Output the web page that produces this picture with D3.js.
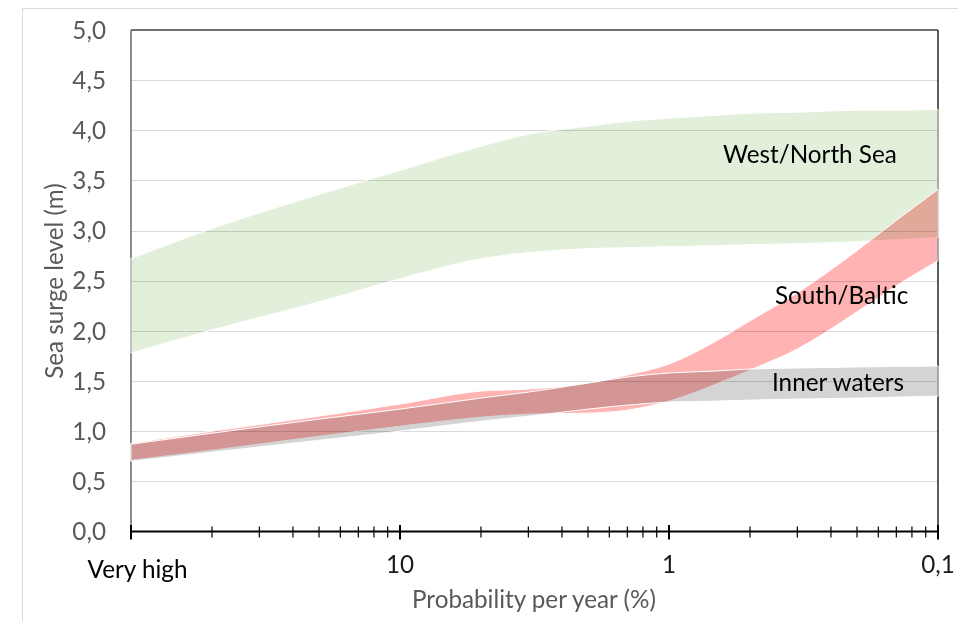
<!DOCTYPE html>
<html>
<head>
<meta charset="utf-8">
<script src="https://cdn.jsdelivr.net/npm/d3@7"></script>
<style>
  html, body { margin: 0; padding: 0; background: #fff; }
  svg { display: block; font-family: Lato, "Open Sans", sans-serif; }
  .band { mix-blend-mode: multiply; }
</style>
</head>
<body>
<svg id="chart" width="958" height="621"></svg>
<script>
// ---- data (probability per year in %, sea surge level in m) ----
const probability      = [100, 50, 20, 10, 5, 3.33, 2, 1.43, 1, 0.667, 0.5, 0.333, 0.2, 0.143, 0.1];
const westNorthLow     = [1.78, 2.01, 2.29, 2.52, 2.72, 2.78, 2.82, 2.83, 2.84, 2.85, 2.86, 2.87, 2.89, 2.91, 2.93];
const westNorthHigh    = [2.72, 3.02, 3.36, 3.60, 3.84, 3.96, 4.04, 4.09, 4.12, 4.15, 4.17, 4.18, 4.20, 4.20, 4.21];
const southBalticLow   = [0.71, 0.81, 0.95, 1.05, 1.14, 1.17, 1.18, 1.21, 1.30, 1.47, 1.61, 1.82, 2.19, 2.45, 2.70];
const southBalticHigh  = [0.88, 1.00, 1.15, 1.27, 1.40, 1.42, 1.48, 1.56, 1.67, 1.90, 2.10, 2.38, 2.80, 3.10, 3.41];
const innerLow         = [0.70, 0.79, 0.91, 1.00, 1.10, 1.15, 1.22, 1.26, 1.29, 1.30, 1.31, 1.32, 1.33, 1.34, 1.35];
const innerHigh        = [0.87, 0.98, 1.12, 1.22, 1.33, 1.39, 1.48, 1.54, 1.58, 1.60, 1.62, 1.63, 1.64, 1.645, 1.65];

const seriesNames  = ["West/North Sea", "South/Baltic", "Inner waters"];
const yTickValues  = [0, 0.5, 1, 1.5, 2, 2.5, 3, 3.5, 4, 4.5, 5];
const yTickLabels  = ["0,0", "0,5", "1,0", "1,5", "2,0", "2,5", "3,0", "3,5", "4,0", "4,5", "5,0"];
const xMajorValues = [100, 10, 1, 0.1];
const xMajorLabels = ["Very high", "10", "1", "0,1"];
const returnSteps  = [2, 3, 4, 5, 6, 7, 8, 9];
const yTitle = "Sea surge level (m)";
const xTitle = "Probability per year (%)";

// ---- layout ----
const svg = d3.select("#chart");
const L = 131, R = 938, T = 30, B = 531.5;
const x = d3.scaleLog().domain([100, 0.1]).range([L, R]);
const y = d3.scaleLinear().domain([0, 5]).range([B, T]);

// font size fitted to reference ("Inner waters" ≈ 132px wide)
const probe = svg.append("text").attr("font-size", 100).text("Inner waters");
const fs = 100 * 132 / probe.node().getComputedTextLength();
probe.remove();

svg.append("rect").attr("width", 958).attr("height", 621).attr("fill", "#fff");
// outer chart frame
svg.append("rect").attr("x", 22.5).attr("y", 8.5).attr("width", 1200).attr("height", 1200)
  .attr("fill", "none").attr("stroke", "#d9d9d9").attr("stroke-width", 1);

// gridlines
svg.append("g").selectAll("line").data(yTickValues.filter(v => v > 0 && v < 5)).join("line")
  .attr("x1", L).attr("x2", R).attr("y1", d => Math.round(y(d)) + 0.5).attr("y2", d => Math.round(y(d)) + 0.5)
  .attr("stroke", "#d9d9d9").attr("stroke-width", 1.2);

// frame top/right
svg.append("line").attr("x1", L).attr("x2", R).attr("y1", y(5)).attr("y2", y(5))
  .attr("stroke", "#404040").attr("stroke-width", 1.5);
svg.append("line").attr("x1", R).attr("x2", R).attr("y1", y(5)).attr("y2", y(0))
  .attr("stroke", "#262626").attr("stroke-width", 1.5);
// left axis
svg.append("line").attr("x1", L).attr("x2", L).attr("y1", y(5)).attr("y2", y(0))
  .attr("stroke", "#808080").attr("stroke-width", 1.8);

// bands
const bands = [
  { name: seriesNames[0], low: westNorthLow, high: westNorthHigh, color: "#e2efda" },
  { name: seriesNames[1], low: southBalticLow, high: southBalticHigh, color: "#ffb3b3" },
  { name: seriesNames[2], low: innerLow, high: innerHigh, color: "#d4d4d4" }
];
const area = d3.area()
  .x((d, i) => x(probability[i]))
  .y0(d => y(d[0])).y1(d => y(d[1]))
  .curve(d3.curveMonotoneX);
bands.forEach(b => {
  const pts = b.low.map((v, i) => [v, b.high[i]]);
  svg.append("path").attr("class", "band").attr("d", area(pts)).attr("fill", b.color);
  svg.append("path").attr("d", area(pts)).attr("fill", "none")
    .attr("stroke", "#fff").attr("stroke-width", 1);
});

// x axis line & ticks
svg.append("line").attr("x1", L).attr("x2", R).attr("y1", B).attr("y2", B)
  .attr("stroke", "#000").attr("stroke-width", 2);
const minorTicks = [];
[100, 10, 1].forEach(p => returnSteps.forEach(s => minorTicks.push(p / s)));
svg.append("g").selectAll("line").data(minorTicks).join("line")
  .attr("x1", d => x(d)).attr("x2", d => x(d)).attr("y1", B - 5).attr("y2", B + 6)
  .attr("stroke", "#000").attr("stroke-width", 1.2);
svg.append("g").selectAll("line").data(xMajorValues).join("line")
  .attr("x1", d => x(d)).attr("x2", d => x(d)).attr("y1", B - 6.5).attr("y2", B + 8)
  .attr("stroke", "#000").attr("stroke-width", 2);

// y tick labels
svg.append("g").selectAll("text").data(yTickValues).join("text")
  .attr("x", 106).attr("y", d => y(d)).attr("dy", "0.36em")
  .attr("text-anchor", "end").attr("font-size", fs).attr("fill", "#595959")
  .text((d, i) => yTickLabels[i]);

// x tick labels
svg.append("g").selectAll("text").data(xMajorValues).join("text")
  .attr("x", (d, i) => x(d) + (i === 0 ? 6.5 : 0))
  .attr("y", (d, i) => i === 0 ? 578 : 573)
  .attr("text-anchor", "middle").attr("font-size", fs)
  .attr("fill", (d, i) => i === 0 ? "#000" : "#1a1a1a")
  .text((d, i) => xMajorLabels[i]);

// axis titles
svg.append("text").attr("transform", `translate(63,281) rotate(-90)`)
  .attr("text-anchor", "middle").attr("font-size", fs).attr("fill", "#595959").text(yTitle);
svg.append("text").attr("x", 534).attr("y", 608)
  .attr("text-anchor", "middle").attr("font-size", fs).attr("fill", "#595959").text(xTitle);

// series labels
const labelPos = [[723, 163], [775, 304], [772, 391]];
svg.append("g").selectAll("text").data(seriesNames).join("text")
  .attr("x", (d, i) => labelPos[i][0]).attr("y", (d, i) => labelPos[i][1])
  .attr("font-size", fs).attr("fill", "#000").text(d => d);
</script>
</body>
</html>
